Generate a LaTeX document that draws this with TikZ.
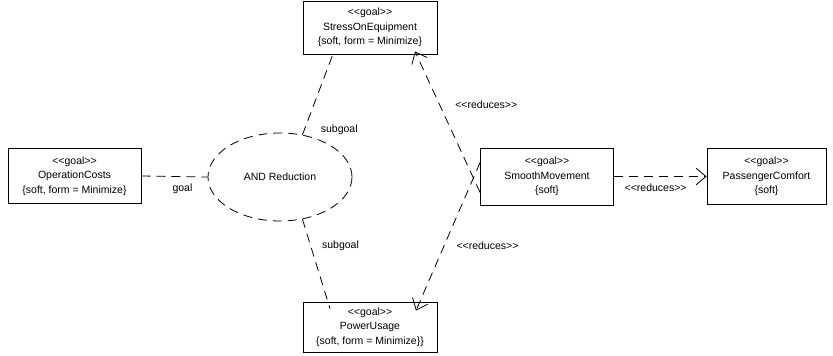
\documentclass[tikz,border=0pt]{standalone}
\usepackage{fontspec}
\setmainfont{Liberation Sans}
\usetikzlibrary{shapes.geometric,arrows.meta}
\newcommand\gl{<\kern0pt<}
\newcommand\gr{>\kern0pt>}
\begin{document}
\begin{tikzpicture}[x=1pt,y=-1pt,
  font=\fontsize{10.5}{14.5}\selectfont,
  goalbox/.style={draw,line width=0.8pt,align=center,inner sep=0pt},
  dsh/.style={line width=0.8pt,dash pattern=on 9pt off 6pt},
  openarr/.style={dsh,-{Straight Barb[angle=80:13pt,line width=0.8pt]}},
  lbl/.style={inner sep=0pt}]
\useasboundingbox (0,0) rectangle (833,356);
\node[goalbox,minimum width=134pt,minimum height=53pt] (stress) at (370,27.5)
  {\gl goal\gr\\StressOnEquipment\\\{soft, form = Minimize\}};
\node[goalbox,minimum width=133pt,minimum height=55pt] (opcost) at (74.5,176)
  {\gl goal\gr\\OperationCosts\\\{soft, form = Minimize\}};
\node[goalbox,minimum width=133pt,minimum height=57pt] (smooth) at (547,176.5)
  {\gl goal\gr\\SmoothMovement\\\{soft\}};
\node[goalbox,minimum width=119pt,minimum height=56pt] (comfort) at (766.5,176.5)
  {\gl goal\gr\\PassengerComfort\\\{soft\}};
\node[goalbox,minimum width=134pt,minimum height=50pt] (power) at (370,327)
  {\gl goal\gr\\PowerUsage\\\{soft, form = Minimize\}\}};
\node[ellipse,draw,dsh,minimum width=144pt,minimum height=88pt,inner sep=0pt] (and) at (280,177) {AND Reduction};
% connectors
\draw[dsh] (opcost.east) -- (and.west) node[lbl,pos=0.62,below=7pt] {goal};
\draw[dsh] (and.62) -- ([xshift=-36pt,yshift=3pt]stress.south)
  node[lbl,pos=0.0,anchor=west,xshift=18pt,yshift=5pt] {subgoal};
\draw[dsh] (and.-62) -- ([xshift=-40pt,yshift=-7pt]power.north)
  node[lbl,pos=0.3,right=11pt] {subgoal};
\draw[openarr] ([yshift=-16pt]smooth.west) -- ([xshift=45pt,yshift=3pt]stress.south)
  node[lbl,pos=0.54,right=10pt,yshift=12pt] {\gl reduces\gr};
\draw[openarr] ([yshift=14pt]smooth.west) -- ([xshift=46pt,yshift=-9pt]power.north)
  node[lbl,pos=0.53,right=10pt,yshift=-5pt] {\gl reduces\gr};
\draw[openarr] (smooth.east) -- (comfort.west) node[lbl,pos=0.45,below=7pt] {\gl reduces\gr};
\end{tikzpicture}
\end{document}
